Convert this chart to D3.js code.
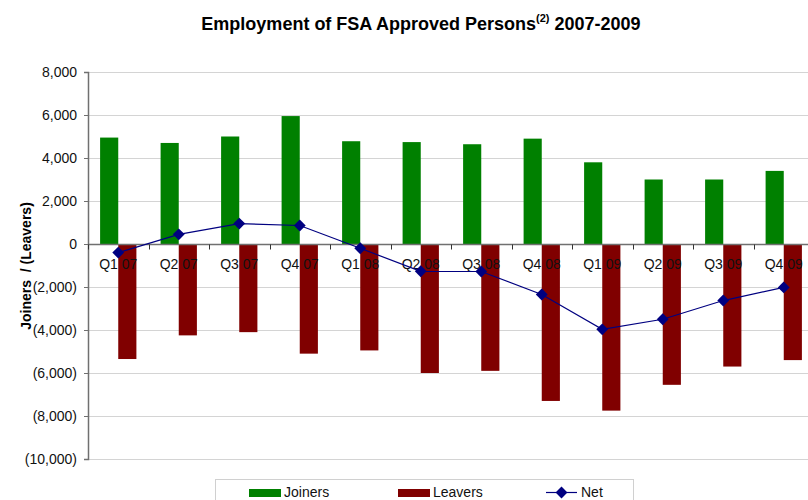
<!DOCTYPE html>
<html>
<head>
<meta charset="utf-8">
<script src="https://cdn.jsdelivr.net/npm/d3@7"></script>
<style>
  body { margin: 0; background: #fff; }
  svg { display: block; font-family: "Liberation Sans", Arial, sans-serif; }
</style>
</head>
<body>
<div id="chart"></div>
<script>
// Quarterly data
const quarters = ['Q1 07', 'Q2 07', 'Q3 07', 'Q4 07', 'Q1 08', 'Q2 08',
                  'Q3 08', 'Q4 08', 'Q1 09', 'Q2 09', 'Q3 09', 'Q4 09'];
const joiners = [4950, 4700, 5000, 5950, 4780, 4740, 4640, 4900, 3800, 3000, 3000, 3400];
const leavers = [-5350, -4250, -4100, -5100, -4950, -6000, -5900, -7300, -7750, -6550, -5700, -5400];
const net = [-400, 450, 950, 860, -200, -1270, -1280, -2350, -3970, -3500, -2630, -2020];
const yTicks = [8000, 6000, 4000, 2000, 0, -2000, -4000, -6000, -8000, -10000];

const width = 808, height = 500;
const margin = { top: 72, left: 88, plotRight: 814, bottom: 459 };

const svg = d3.select('#chart').append('svg')
  .attr('width', width)
  .attr('height', height);

const x = d3.scaleBand()
  .domain(quarters)
  .range([margin.left, margin.plotRight]);

const y = d3.scaleLinear()
  .domain([-10000, 8000])
  .range([margin.bottom, margin.top]);

const fmt = v => v < 0 ? `(${d3.format(',')(-v)})` : d3.format(',')(v);

// Gridlines
svg.append('g')
  .selectAll('line')
  .data(yTicks.filter(d => d !== 0))
  .join('line')
    .attr('x1', margin.left)
    .attr('x2', width)
    .attr('y1', d => Math.round(y(d)) + 0.5)
    .attr('y2', d => Math.round(y(d)) + 0.5)
    .attr('stroke', '#d4d4d4')
    .attr('stroke-width', 1);

// Bars
const barW = x.bandwidth() * 0.3;
const bars = svg.append('g');
bars.selectAll('.joiner')
  .data(quarters)
  .join('rect')
    .attr('class', 'joiner')
    .attr('x', d => x(d) + x.bandwidth() / 2 - barW)
    .attr('width', barW)
    .attr('y', (d, i) => y(joiners[i]))
    .attr('height', (d, i) => y(0) - y(joiners[i]))
    .attr('fill', '#008000');

bars.selectAll('.leaver')
  .data(quarters)
  .join('rect')
    .attr('class', 'leaver')
    .attr('x', d => x(d) + x.bandwidth() / 2)
    .attr('width', barW)
    .attr('y', y(0))
    .attr('height', (d, i) => y(leavers[i]) - y(0))
    .attr('fill', '#800000');

// Y axis
const yAxis = svg.append('g')
  .attr('transform', `translate(${margin.left},0)`)
  .call(d3.axisLeft(y).tickValues(yTicks).tickFormat(fmt).tickSize(4).tickPadding(7));
yAxis.select('.domain').attr('stroke', '#707070').attr('stroke-width', 1.5);
yAxis.selectAll('.tick line').attr('stroke', '#707070');
yAxis.selectAll('.tick text')
  .attr('font-size', 14)
  .attr('font-family', '"Liberation Sans", Arial, sans-serif')
  .attr('fill', '#111');

// Zero line with category ticks at band boundaries
const y0 = Math.round(y(0)) + 0.5;
svg.append('line')
  .attr('x1', margin.left).attr('x2', width)
  .attr('y1', y0).attr('y2', y0)
  .attr('stroke', '#707070').attr('stroke-width', 1.5);
svg.append('g')
  .selectAll('line')
  .data(quarters)
  .join('line')
    .attr('x1', d => Math.round(x(d)) + 0.5)
    .attr('x2', d => Math.round(x(d)) + 0.5)
    .attr('y1', y0)
    .attr('y2', y0 + 5)
    .attr('stroke', '#333');

// Category labels
svg.append('g')
  .selectAll('text')
  .data(quarters)
  .join('text')
    .attr('x', d => x(d) + x.bandwidth() / 2)
    .attr('y', y0 + 24)
    .attr('text-anchor', 'middle')
    .attr('font-size', 14)
    .attr('fill', '#111')
    .text(d => d);

// Net line
const line = d3.line()
  .x((d, i) => x(quarters[i]) + x.bandwidth() / 2)
  .y(d => y(d));
svg.append('path')
  .datum(net)
  .attr('d', line)
  .attr('fill', 'none')
  .attr('stroke', '#000080')
  .attr('stroke-width', 1.2);

const diamond = d3.symbol().type(d3.symbolDiamond2).size(90);
svg.append('g')
  .selectAll('path')
  .data(net)
  .join('path')
    .attr('d', diamond)
    .attr('transform', (d, i) => `translate(${x(quarters[i]) + x.bandwidth() / 2},${y(d)})`)
    .attr('fill', '#000080');

// Title
const title = svg.append('text')
  .attr('x', 421)
  .attr('y', 30)
  .attr('text-anchor', 'middle')
  .attr('font-size', 18)
  .attr('font-weight', 'bold')
  .attr('fill', '#000');
title.append('tspan').text('Employment of FSA Approved Persons');
title.append('tspan').attr('font-size', 11).attr('dy', -8).text('(2)');
title.append('tspan').attr('dy', 8).text(' 2007-2009');

// Y axis label
svg.append('text')
  .attr('transform', 'translate(31,266) rotate(-90)')
  .attr('text-anchor', 'middle')
  .attr('font-size', 14)
  .attr('font-weight', 'bold')
  .style('white-space', 'pre')
  .text('Joiners  / (Leavers)');

// Legend
const legend = svg.append('g');
legend.append('rect')
  .attr('x', 215.5).attr('y', 479.5)
  .attr('width', 418).attr('height', 30)
  .attr('fill', '#fff')
  .attr('stroke', '#d0d0d0');

const legendItems = [
  { label: 'Joiners', color: '#008000', type: 'bar', x: 249 },
  { label: 'Leavers', color: '#800000', type: 'bar', x: 398 },
  { label: 'Net', color: '#000080', type: 'line', x: 546 }
];
legendItems.forEach(item => {
  if (item.type === 'bar') {
    legend.append('rect')
      .attr('x', item.x).attr('y', 489)
      .attr('width', 32).attr('height', 8)
      .attr('fill', item.color);
  } else {
    legend.append('line')
      .attr('x1', item.x).attr('x2', item.x + 31)
      .attr('y1', 492.5).attr('y2', 492.5)
      .attr('stroke', item.color).attr('stroke-width', 1.2);
    legend.append('path')
      .attr('d', diamond)
      .attr('transform', `translate(${item.x + 15.5},492.5)`)
      .attr('fill', item.color);
  }
  legend.append('text')
    .attr('x', item.x + 35)
    .attr('y', 497)
    .attr('font-size', 14)
    .attr('fill', '#111')
    .text(item.label);
});
</script>
</body>
</html>
